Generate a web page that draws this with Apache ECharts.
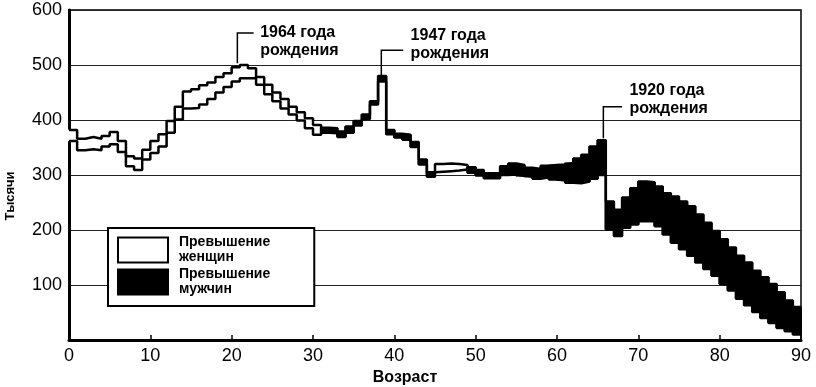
<!DOCTYPE html>
<html><head><meta charset="utf-8">
<script src="https://cdn.jsdelivr.net/npm/echarts@6/dist/echarts.min.js"></script>
<style>html,body{margin:0;padding:0;background:#fff}#c{width:816px;height:387px}</style>
</head><body><div id="c"></div>
<script>
// Ages (start of each one-year group)
const ages = [];
for (let a = 0; a < 90; a++) ages.push(a);
// Women, thousands (by age 0..89)
const women = [
 382,366,369,366,371,378,362,334,330,346,
 362,374,398,424,452,456,463,468,478,485,
 496,500,494,478,464,450,438,424,414,403,
 391,377,376,369,377,390,402,428,470,374,
 368,364,351,319,297,320,321,320,318,304,
 299,294,294,300,301,298,297,293,296,292,
 290,286,285,288,293,300,201,189,204,210,
 216,216,207,192,177,165,153,141,129,117,
 102,90,75,63,51,40,31,22,16,10];
// Men, thousands (by age 0..89)
const men = [
 362,345,347,345,352,356,342,316,309,328,
 340,352,377,401,421,422,428,438,450,460,
 470,476,476,464,447,434,421,410,399,385,
 373,386,385,379,388,398,410,434,480,382,
 375,373,360,328,305,306,307,308,310,314,
 309,303,303,316,321,318,313,311,317,318,
 319,322,330,337,352,363,252,237,259,276,
 288,287,279,267,261,252,243,228,213,198,
 183,168,153,141,126,114,102,87,72,60];
const yTicks = [0,100,200,300,400,500,600];
const xTicks = [0,10,20,30,40,50,60,70,80,90];
const annotations = [
 {text:'1964 года\nрождения', age:20.7, from:503, to:558, armTo:22.7, textAge:23.5, textVal:575},
 {text:'1947 года\nрождения', age:38.4, from:482, to:527, armTo:41.1, textAge:42.0, textVal:570},
 {text:'1920 года\nрождения', age:65.7, from:367, to:424, armTo:68.0, textAge:68.9, textVal:470}
];
const NAME_W = 'Превышение женщин';
const NAME_M = 'Превышение мужчин';

function withEnd(arr){ // step points, closing at age 90
  const d = ages.map((a,i)=>[a, arr[i]]);
  d.push([90, arr[arr.length-1]]);
  return d;
}
const pairs = ages.map((a,i)=>[a, women[i], men[i]]);

// one polygon per item, covering the band between the two step lines
function excessRenderer(wantWomen){
  return function(params, api){
    const a = api.value(0), w = api.value(1), m = api.value(2);
    if (wantWomen ? !(w > m) : !(m > w)) return null;
    const lo = Math.min(w,m), hi = Math.max(w,m);
    const pA = api.coord([a, lo]), pB = api.coord([a+1, lo]);
    const pC = api.coord([a+1, hi]), pD = api.coord([a, hi]);
    const col = wantWomen ? '#ffffff' : '#000000';
    return {type:'polygon', shape:{points:[[pA[0]-0.5,pA[1]],[pB[0]+0.5,pB[1]],[pC[0]+0.5,pC[1]],[pD[0]-0.5,pD[1]]]},
      style:{fill:col, stroke:col, lineWidth:1, decal:null}};
  };
}

const chart = echarts.init(document.getElementById('c'), null, {renderer:'canvas'});
const FONT = '"Liberation Sans", Arial, sans-serif';
chart.setOption({
  animation:false,
  aria:{enabled:false, decal:{show:false}},
  backgroundColor:'#fff',
  textStyle:{fontFamily:FONT, color:'#000'},
  grid:{left:69, right:15, top:10, bottom:47, show:true, borderColor:'#000', borderWidth:1.5,
    outerBoundsMode:'none', containLabel:false},
  xAxis:{type:'value', min:0, max:90, interval:10,
    name:'Возраст', nameLocation:'middle', nameGap:30,
    nameTextStyle:{fontSize:16, fontWeight:'bold', color:'#000', padding:[0,60,0,0]},
    axisLine:{show:true, onZero:false, lineStyle:{color:'#000', width:3}},
    axisTick:{show:true, inside:true, length:5, lineStyle:{color:'#000', width:1.5}},
    axisLabel:{fontSize:18, color:'#000', margin:7, formatter:v=>xTicks.includes(v)?String(v):''},
    splitLine:{show:false}},
  yAxis:{type:'value', min:0, max:600, interval:100,
    name:'Тысячи', nameLocation:'middle', nameGap:52, nameRotate:90,
    nameTextStyle:{fontSize:13, fontWeight:'bold', color:'#000', padding:[0,42,0,0]},
    axisLine:{show:true, lineStyle:{color:'#000', width:3}},
    axisTick:{show:false},
    axisLabel:{fontSize:18, color:'#000', margin:7, formatter:v=>(v===0||!yTicks.includes(v))?'':String(v)},
    splitLine:{show:true, lineStyle:{color:'#222', width:1}}},
  legend:{
    orient:'vertical', left:108, top:228, itemWidth:50, itemHeight:25, itemGap:2,
    padding:[7,44,9,9], borderColor:'#000', borderWidth:2, backgroundColor:'#fff',
    selectedMode:false, icon:'rect',
    textStyle:{fontSize:14, fontWeight:'bold', color:'#000', lineHeight:15, padding:[0,0,0,6]},
    formatter:n=>n.replace(' ','\n'),
    data:[
      {name:NAME_W, icon:'rect', itemStyle:{color:'#fff', borderColor:'#000', borderWidth:2}},
      {name:NAME_M, icon:'rect', itemStyle:{color:'#000', borderColor:'#000', borderWidth:2}}
    ]},
  series:[
    {name:NAME_W, type:'custom', renderItem:excessRenderer(true), silent:true,
      itemStyle:{color:'#fff'}, encode:{x:0, y:[1,2]}, data:pairs, z:2},
    {name:NAME_M, type:'custom', renderItem:excessRenderer(false), silent:true,
      itemStyle:{color:'#000'}, encode:{x:0, y:[1,2]}, data:pairs, z:2},
    {name:'Женщины', type:'line', step:'end', symbol:'none', silent:true,
      lineStyle:{color:'#000', width:2.5}, data:withEnd(women), z:3},
    {name:'Мужчины', type:'line', step:'end', symbol:'none', silent:true,
      lineStyle:{color:'#000', width:2.5}, data:withEnd(men), z:3}
  ]
});

const g = [];
annotations.forEach(a=>{
  const p1 = chart.convertToPixel({gridIndex:0}, [a.age, a.from]);
  const p2 = chart.convertToPixel({gridIndex:0}, [a.age, a.to]);
  const p3 = chart.convertToPixel({gridIndex:0}, [a.armTo, a.to]);
  const pt = chart.convertToPixel({gridIndex:0}, [a.textAge, a.textVal]);
  g.push({type:'polyline', shape:{points:[p1,p2,p3]}, style:{stroke:'#000', lineWidth:1.5, fill:null}, z:10});
  g.push({type:'text', x:pt[0], y:pt[1], style:{text:a.text, font:'bold 16px '+FONT, fill:'#000', lineHeight:18}, z:10});
});
chart.setOption({graphic:g});
</script></body></html>
